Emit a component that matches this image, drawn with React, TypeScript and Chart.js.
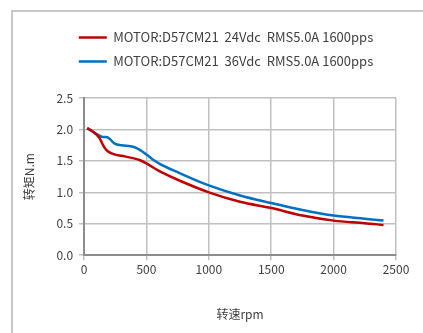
import React, { useEffect, useRef } from "react";
import { Chart, registerables } from "chart.js";

Chart.register(...registerables);

const label24 = "MOTOR:D57CM21  24Vdc  RMS5.0A 1600pps";
const label36 = "MOTOR:D57CM21  36Vdc  RMS5.0A 1600pps";

const speeds24 = [25, 75, 125, 150, 175, 200, 250, 300, 400, 450, 500, 600, 750, 1000, 1250, 1500, 1750, 2000, 2250, 2400];
const torque24 = [2.02, 1.96, 1.86, 1.76, 1.68, 1.64, 1.6, 1.58, 1.54, 1.51, 1.46, 1.34, 1.2, 1.0, 0.85, 0.75, 0.63, 0.55, 0.51, 0.48];

const speeds36 = [25, 75, 125, 150, 175, 200, 225, 250, 300, 400, 450, 500, 600, 750, 1000, 1250, 1500, 1750, 2000, 2250, 2400];
const torque36 = [2.02, 1.96, 1.9, 1.88, 1.88, 1.86, 1.81, 1.77, 1.75, 1.72, 1.67, 1.6, 1.46, 1.32, 1.11, 0.95, 0.83, 0.72, 0.63, 0.58, 0.55];

const xTitle = "转速rpm";
const yTitle = "转矩N.m";

const FONT = "'Noto Sans CJK SC', 'Noto Sans', sans-serif";

const legendTweak = {
  id: "legendTweak",
  beforeInit(chart: any) {
    const lg = chart.legend;
    if (!lg) return;
    const orig = lg.fit;
    lg.fit = function () {
      orig.call(this);
      this.height += 20;
    };
  },
  beforeDraw(chart: any) {
    const lg = chart.legend;
    if (lg && !lg._shifted) {
      lg._shifted = true;
      lg.left += 34;
    }
  },
};

export default function App() {
  const ref = useRef<HTMLCanvasElement>(null);
  useEffect(() => {
    if (!ref.current) return;
    const chart = new Chart(ref.current, {
      type: "line",
      data: {
        datasets: [
          {
            label: label24,
            data: speeds24.map((s, i) => ({ x: s, y: torque24[i] })),
            borderColor: "#c00000",
            backgroundColor: "#c00000",
            borderWidth: 2.5,
            pointRadius: 0,
            cubicInterpolationMode: "monotone",
          },
          {
            label: label36,
            data: speeds36.map((s, i) => ({ x: s, y: torque36[i] })),
            borderColor: "#0070c0",
            backgroundColor: "#0070c0",
            borderWidth: 2.5,
            pointRadius: 0,
            cubicInterpolationMode: "monotone",
          },
        ],
      },
      options: {
        responsive: false,
        animation: false,
        layout: { padding: { left: 22, right: 27, top: 20, bottom: 11 } },
        plugins: {
          tooltip: { enabled: false },
          legend: {
            position: "top",
            labels: {
              font: { family: FONT, size: 13 },
              color: "#404040",
              boxWidth: 28,
              boxHeight: 0,
              padding: 11,
            },
          },
        },
        scales: {
          x: {
            type: "linear",
            min: 0,
            max: 2500,
            ticks: {
              stepSize: 500,
              font: { family: FONT, size: 12 },
              color: "#404040",
              padding: 2,
              callback: (v: any) => String(v),
            },
            grid: { color: "#c0c0c0", lineWidth: 1.5, tickLength: 5 },
            border: { color: "#8c8c8c", width: 2 },
            title: { display: true, text: xTitle, font: { family: FONT, size: 12 }, color: "#404040", padding: { top: 29, bottom: 0 } },
          },
          y: {
            min: 0,
            max: 2.5,
            ticks: {
              stepSize: 0.5,
              font: { family: FONT, size: 12 },
              color: "#404040",
              padding: 6,
              callback: (v: any) => Number(v).toFixed(1),
            },
            grid: { color: "#c0c0c0", lineWidth: 1.5, tickLength: 5 },
            border: { color: "#8c8c8c", width: 2 },
            title: { display: true, text: yTitle, font: { family: FONT, size: 12 }, color: "#404040", padding: { top: 0, bottom: 14 } },
          },
        },
      },
      plugins: [legendTweak],
    });
    return () => chart.destroy();
  }, []);
  return (
    <div>
      <div style={{ position: "fixed", left: 11, top: 10, width: 2, height: 323, background: "#c8c8c8" }} />
      <div style={{ position: "fixed", left: 11, top: 10, width: 412, height: 2, background: "#c8c8c8" }} />
      <canvas ref={ref} width={423} height={333} style={{ position: "fixed", left: 0, top: 0, width: 423, height: 333 }} />
    </div>
  );
}
